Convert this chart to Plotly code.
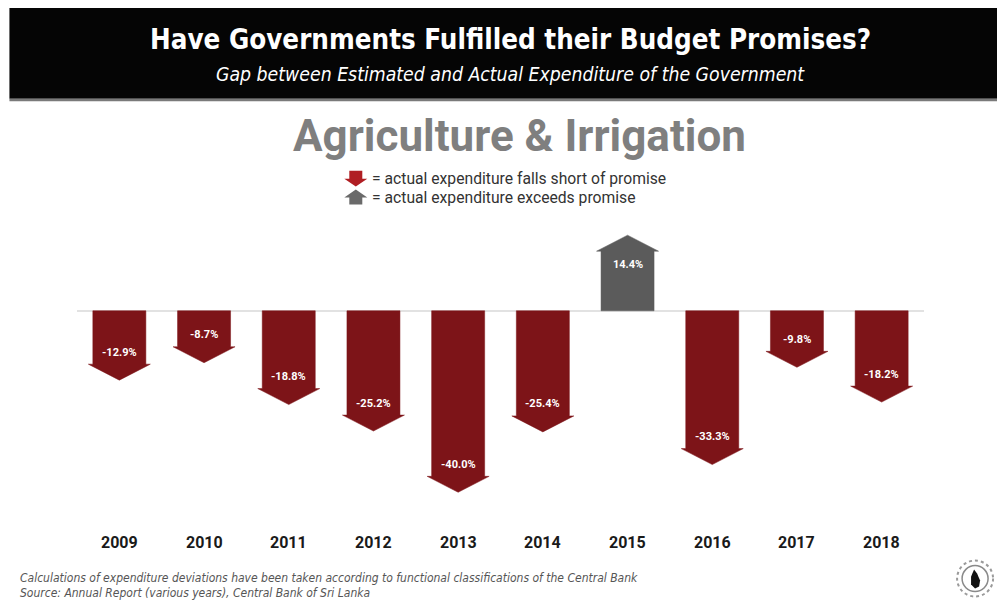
import plotly.graph_objects as go

years = ["2009", "2010", "2011", "2012", "2013", "2014", "2015", "2016", "2017", "2018"]
gap_pct = [-12.9, -8.7, -18.8, -25.2, -40.0, -25.4, 14.4, -33.3, -9.8, -18.2]

RED = "#7d1418"
GREY = "#5b5b5b"
COND = "DejaVu Sans Condensed, DejaVu Sans, sans-serif"

W, H = 997, 603
L, R, T, B = 76.6, 73.1, 227.5, 76.7
PW = W - L - R
PH = H - T - B
YMIN, YMAX = -52, 20


def px(x):
    return (x - L) / PW


def py(y):
    return (H - B - y) / PH


# arrow geometry in axis units (category spacing = 1)
body_half = 0.313
head_half = 0.366
head_len = 3.86


def arrow(i, v):
    s = 1 if v > 0 else -1
    xs = [i - body_half, i + body_half, i + body_half, i + head_half, i, i - head_half, i - body_half, i - body_half, None]
    ys = [0, 0, v, v, v + s * head_len, v, v, 0, None]
    return xs, ys


fig = go.Figure()
neg_x, neg_y, pos_x, pos_y = [], [], [], []
for i, v in enumerate(gap_pct):
    xs, ys = arrow(i, v)
    if v < 0:
        neg_x += xs
        neg_y += ys
    else:
        pos_x += xs
        pos_y += ys

fig.add_trace(go.Scatter(x=neg_x, y=neg_y, mode="lines", fill="toself", fillcolor=RED,
                         line=dict(color=RED, width=0.5), hoverinfo="skip", showlegend=False))
fig.add_trace(go.Scatter(x=pos_x, y=pos_y, mode="lines", fill="toself", fillcolor=GREY,
                         line=dict(color=GREY, width=0.5), hoverinfo="skip", showlegend=False))

annotations = []
for i, v in enumerate(gap_pct):
    annotations.append(dict(x=i, y=v, xref="x", yref="y", text="<b>%.1f%%</b>" % v, showarrow=False,
                            yshift=12 if v < 0 else -13, yanchor="middle",
                            font=dict(family="Roboto", size=11, color="white")))
    annotations.append(dict(x=i, y=0, xref="x", yref="paper", text="<b>%s</b>" % years[i], showarrow=False,
                            yshift=-16, yanchor="middle",
                            font=dict(family="Roboto", size=16, color="#1a1a1a")))

# header texts
annotations.append(dict(x=px(510), y=py(38), xref="paper", yref="paper", showarrow=False,
                        text="<b>Have Governments Fulfilled their Budget Promises?</b>",
                        xanchor="center", yanchor="middle",
                        font=dict(family=COND, size=27.5, color="white")))
annotations.append(dict(x=px(510), y=py(74), xref="paper", yref="paper", showarrow=False,
                        text="<i>Gap between Estimated and Actual Expenditure of the Government</i>",
                        xanchor="center", yanchor="middle",
                        font=dict(family=COND, size=19.3, color="white")))
annotations.append(dict(x=px(519), y=py(135), xref="paper", yref="paper", showarrow=False,
                        text="<b>Agriculture &amp; Irrigation</b>",
                        xanchor="center", yanchor="middle",
                        font=dict(family="Roboto", size=44, color="#7f7f7f")))
annotations.append(dict(x=px(370), y=py(178), xref="paper", yref="paper", showarrow=False,
                        text="= actual expenditure falls short of promise",
                        xanchor="left", yanchor="middle",
                        font=dict(family="Roboto", size=15.7, color="#333333")))
annotations.append(dict(x=px(370), y=py(197), xref="paper", yref="paper", showarrow=False,
                        text="= actual expenditure exceeds promise",
                        xanchor="left", yanchor="middle",
                        font=dict(family="Roboto", size=15.7, color="#333333")))
annotations.append(dict(x=px(18), y=py(578), xref="paper", yref="paper", showarrow=False,
                        text="<i>Calculations of expenditure deviations have been taken according to functional classifications of the Central Bank</i>",
                        xanchor="left", yanchor="middle",
                        font=dict(family=COND, size=12, color="#555555")))
annotations.append(dict(x=px(18), y=py(593), xref="paper", yref="paper", showarrow=False,
                        text="<i>Source: Annual Report (various years), Central Bank of Sri Lanka</i>",
                        xanchor="left", yanchor="middle",
                        font=dict(family=COND, size=12, color="#555555")))


def ppath(points):
    return "M " + " L ".join("%f,%f" % (px(x), py(y)) for x, y in points) + " Z"


shapes = [
    dict(type="rect", xref="paper", yref="paper", x0=px(9), x1=px(1000), y0=py(98), y1=py(7),
         fillcolor="#050505", line=dict(width=0), layer="below"),
    dict(type="rect", xref="paper", yref="paper", x0=px(9), x1=px(1000), y0=py(100.5), y1=py(98),
         fillcolor="#7a7a7a", line=dict(width=0), layer="below"),
    # legend icons
    dict(type="path", xref="paper", yref="paper", fillcolor="#b01e23", line=dict(width=0),
         path=ppath([(349, 170), (362, 170), (362, 178), (367, 178), (355.5, 186), (344, 178), (349, 178)])),
    dict(type="path", xref="paper", yref="paper", fillcolor="#6a6a6a", line=dict(width=0),
         path=ppath([(349, 204), (362, 204), (362, 197), (367, 197), (355.5, 189), (344, 197), (349, 197)])),
    # logo
    dict(type="circle", xref="paper", yref="paper", x0=px(957), x1=px(993), y0=py(597), y1=py(561),
         line=dict(color="#9a9a9a", width=2, dash="dot"), fillcolor="white"),
    dict(type="circle", xref="paper", yref="paper", x0=px(962), x1=px(988), y0=py(592), y1=py(566),
         line=dict(color="#8a8a8a", width=1.5), fillcolor="white"),
    dict(type="path", xref="paper", yref="paper", fillcolor="#111111", line=dict(width=0),
         path=ppath([(974, 570), (977, 574), (980, 581), (979, 587), (975, 589), (971, 585), (971, 577)])),
]

fig.update_layout(
    width=W, height=H,
    margin=dict(l=L, r=R, t=T, b=B, pad=0),
    paper_bgcolor="white", plot_bgcolor="white",
    showlegend=False,
    xaxis=dict(range=[-0.5, 9.5], visible=False, fixedrange=True),
    yaxis=dict(range=[YMIN, YMAX], showgrid=False, showticklabels=False, ticks="",
               zeroline=True, zerolinecolor="#e2e2e2", zerolinewidth=1.5, fixedrange=True),
    annotations=annotations,
    shapes=shapes,
)

fig.write_html("out.html", config={"displayModeBar": False})
